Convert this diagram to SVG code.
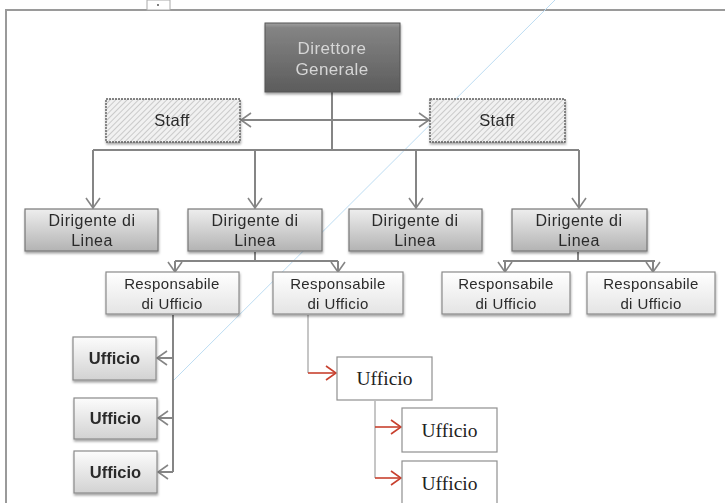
<svg xmlns="http://www.w3.org/2000/svg" width="725" height="503" viewBox="0 0 725 503">
<style>
.sans{font-family:"Liberation Sans",Arial,sans-serif;text-anchor:middle}
.serif{font-family:"Liberation Serif","Times New Roman",serif;text-anchor:middle}
.conn{fill:none;stroke:#858585;stroke-width:2}
.thin{fill:none;stroke:#a8a8a8;stroke-width:1.3}
.red{fill:none;stroke:#c8402e;stroke-width:1.6}
.dir{fill:url(#gDir);stroke:#777;stroke-width:1.2}
.resp{fill:url(#gResp);stroke:#8a8a8a;stroke-width:1.2}
.uff{fill:url(#gUff);stroke:#8a8a8a;stroke-width:1.2}
.uffs{fill:#fff;stroke:#8f8f8f;stroke-width:1.2}
.staff{fill:url(#hatch);stroke:#5e5e5e;stroke-width:1.4;stroke-dasharray:2 1}
.t{fill:#2b2b2b}
.td{font-size:16px;letter-spacing:0.5px}
.tr{font-size:15px;letter-spacing:0.4px}
.tu{font-size:16.5px;font-weight:bold}
</style>
<defs>
<linearGradient id="gDG" x1="0" y1="0" x2="0" y2="1">
<stop offset="0" stop-color="#a0a0a0"/><stop offset="0.07" stop-color="#848484"/><stop offset="1" stop-color="#5c5c5c"/>
</linearGradient>
<linearGradient id="gDir" x1="0" y1="0" x2="0" y2="1">
<stop offset="0" stop-color="#eeeeee"/><stop offset="1" stop-color="#b3b3b3"/>
</linearGradient>
<linearGradient id="gResp" x1="0" y1="0" x2="0" y2="1">
<stop offset="0" stop-color="#ffffff"/><stop offset="1" stop-color="#e4e4e4"/>
</linearGradient>
<linearGradient id="gUff" x1="0" y1="0" x2="0" y2="1">
<stop offset="0" stop-color="#fcfcfc"/><stop offset="1" stop-color="#d2d2d2"/>
</linearGradient>
<pattern id="hatch" width="4" height="4" patternUnits="userSpaceOnUse" patternTransform="rotate(45)">
<rect width="4" height="4" fill="#f1f1f1"/><line x1="0" y1="0" x2="0" y2="4" stroke="#b0b0b0" stroke-width="1.2"/>
</pattern>
<filter id="sh" x="-10%" y="-10%" width="120%" height="130%">
<feDropShadow dx="0.5" dy="2" stdDeviation="1.2" flood-color="#000" flood-opacity="0.35"/>
</filter>
<marker id="ag" viewBox="0 0 12 16" refX="11" refY="8" markerWidth="12" markerHeight="16" markerUnits="userSpaceOnUse" orient="auto-start-reverse">
<path d="M1,1 L11,8 L1,15" fill="none" stroke="#858585" stroke-width="1.6"/>
</marker>
<marker id="ar" viewBox="0 0 12 16" refX="11" refY="8" markerWidth="12" markerHeight="16" markerUnits="userSpaceOnUse" orient="auto">
<path d="M1,1 L11,8 L1,15" fill="none" stroke="#c8402e" stroke-width="1.6"/>
</marker>
</defs>
<rect width="725" height="503" fill="#fff"/>
<g id="frame">
<path d="M6,503 V10 H725" fill="none" stroke="#9a9a9a" stroke-width="2"/>
<rect x="147" y="0" width="23" height="10" fill="#fff" stroke="#aaa" stroke-width="1"/>
<circle cx="158" cy="5" r="0.9" fill="#444"/>
</g>
<line x1="555" y1="0" x2="172" y2="382" stroke="#bcdcf2" stroke-width="1"/>
<g id="connectors">
<line class="conn" x1="332" y1="92" x2="332" y2="150"/>
<line class="conn" x1="241" y1="120" x2="429" y2="120" marker-start="url(#ag)" marker-end="url(#ag)"/>
<line class="conn" x1="93" y1="150" x2="579" y2="150"/>
<line class="conn" x1="93" y1="150" x2="93" y2="208" marker-end="url(#ag)"/>
<line class="conn" x1="255" y1="150" x2="255" y2="208" marker-end="url(#ag)"/>
<line class="conn" x1="416" y1="150" x2="416" y2="208" marker-end="url(#ag)"/>
<line class="conn" x1="579" y1="150" x2="579" y2="208" marker-end="url(#ag)"/>
<path class="conn" d="M255,252 V261 M175,261 H338"/>
<line class="conn" x1="175" y1="261" x2="175" y2="272" marker-end="url(#ag)"/>
<line class="conn" x1="338" y1="261" x2="338" y2="272" marker-end="url(#ag)"/>
<path class="conn" d="M578,252 V261 M503,261 H655"/>
<line class="conn" x1="505" y1="261" x2="505" y2="272" marker-end="url(#ag)"/>
<line class="conn" x1="653" y1="261" x2="653" y2="272" marker-end="url(#ag)"/>
<path class="conn" d="M173,315 V472"/>
<line class="conn" x1="173" y1="358" x2="157" y2="358" marker-end="url(#ag)"/>
<line class="conn" x1="173" y1="418" x2="158" y2="418" marker-end="url(#ag)"/>
<line class="conn" x1="173" y1="472" x2="158" y2="472" marker-end="url(#ag)"/>
<path class="thin" d="M308,315 V373"/>
<line class="red" x1="308" y1="373" x2="336" y2="373" marker-end="url(#ar)"/>
<path class="thin" d="M375,401 V478"/>
<line class="red" x1="375" y1="427" x2="401" y2="427" marker-end="url(#ar)"/>
<line class="red" x1="375" y1="478" x2="401" y2="478" marker-end="url(#ar)"/>
</g>
<g id="direttore" filter="url(#sh)">
<rect x="265" y="23" width="135" height="69" fill="url(#gDG)" stroke="#555" stroke-width="1"/>
<text class="sans" x="332" y="54" font-size="17" letter-spacing="0.4" fill="#d6d6d6">Direttore</text>
<text class="sans" x="332" y="75" font-size="17" letter-spacing="0.4" fill="#d6d6d6">Generale</text>
</g>
<g id="staff1" filter="url(#sh)">
<rect class="staff" x="106" y="99" width="134" height="43"/>
<text class="sans t" x="172" y="126" font-size="16.5" letter-spacing="0.4">Staff</text>
</g>
<g id="staff2" filter="url(#sh)">
<rect class="staff" x="430" y="99" width="135" height="43"/>
<text class="sans t" x="497" y="126" font-size="16.5" letter-spacing="0.4">Staff</text>
</g>
<g id="dir1" filter="url(#sh)">
<rect class="dir" x="25" y="209" width="133" height="42"/>
<text class="sans t td" x="92" y="226">Dirigente di</text>
<text class="sans t td" x="92" y="246">Linea</text>
</g>
<g id="dir2" filter="url(#sh)">
<rect class="dir" x="188" y="209" width="134" height="42"/>
<text class="sans t td" x="255" y="226">Dirigente di</text>
<text class="sans t td" x="255" y="246">Linea</text>
</g>
<g id="dir3" filter="url(#sh)">
<rect class="dir" x="349" y="209" width="133" height="42"/>
<text class="sans t td" x="415" y="226">Dirigente di</text>
<text class="sans t td" x="415" y="246">Linea</text>
</g>
<g id="dir4" filter="url(#sh)">
<rect class="dir" x="512" y="209" width="135" height="42"/>
<text class="sans t td" x="579" y="226">Dirigente di</text>
<text class="sans t td" x="579" y="246">Linea</text>
</g>
<g id="resp1" filter="url(#sh)">
<rect class="resp" x="106" y="272" width="133" height="42"/>
<text class="sans t tr" x="172" y="289">Responsabile</text>
<text class="sans t tr" x="172" y="309">di Ufficio</text>
</g>
<g id="resp2" filter="url(#sh)">
<rect class="resp" x="273" y="272" width="130" height="42"/>
<text class="sans t tr" x="338" y="289">Responsabile</text>
<text class="sans t tr" x="338" y="309">di Ufficio</text>
</g>
<g id="resp3" filter="url(#sh)">
<rect class="resp" x="442" y="272" width="128" height="42"/>
<text class="sans t tr" x="506" y="289">Responsabile</text>
<text class="sans t tr" x="506" y="309">di Ufficio</text>
</g>
<g id="resp4" filter="url(#sh)">
<rect class="resp" x="587" y="272" width="128" height="42"/>
<text class="sans t tr" x="651" y="289">Responsabile</text>
<text class="sans t tr" x="651" y="309">di Ufficio</text>
</g>
<g id="uff1" filter="url(#sh)">
<rect class="uff" x="73" y="337" width="83" height="43"/>
<text class="sans t tu" x="114.5" y="364">Ufficio</text>
</g>
<g id="uff2" filter="url(#sh)">
<rect class="uff" x="74" y="398" width="83" height="41"/>
<text class="sans t tu" x="115.5" y="424">Ufficio</text>
</g>
<g id="uff3" filter="url(#sh)">
<rect class="uff" x="74" y="451" width="83" height="42"/>
<text class="sans t tu" x="115.5" y="478">Ufficio</text>
</g>
<g id="uffA">
<rect class="uffs" x="337" y="357" width="95" height="43"/>
<text class="serif" x="384.5" y="385" font-size="19.5" fill="#222">Ufficio</text>
</g>
<g id="uffB">
<rect class="uffs" x="402" y="408" width="95" height="44"/>
<text class="serif" x="449.5" y="437" font-size="19.5" fill="#222">Ufficio</text>
</g>
<g id="uffC">
<rect class="uffs" x="402" y="461" width="95" height="44"/>
<text class="serif" x="449.5" y="490" font-size="19.5" fill="#222">Ufficio</text>
</g>
</svg>
